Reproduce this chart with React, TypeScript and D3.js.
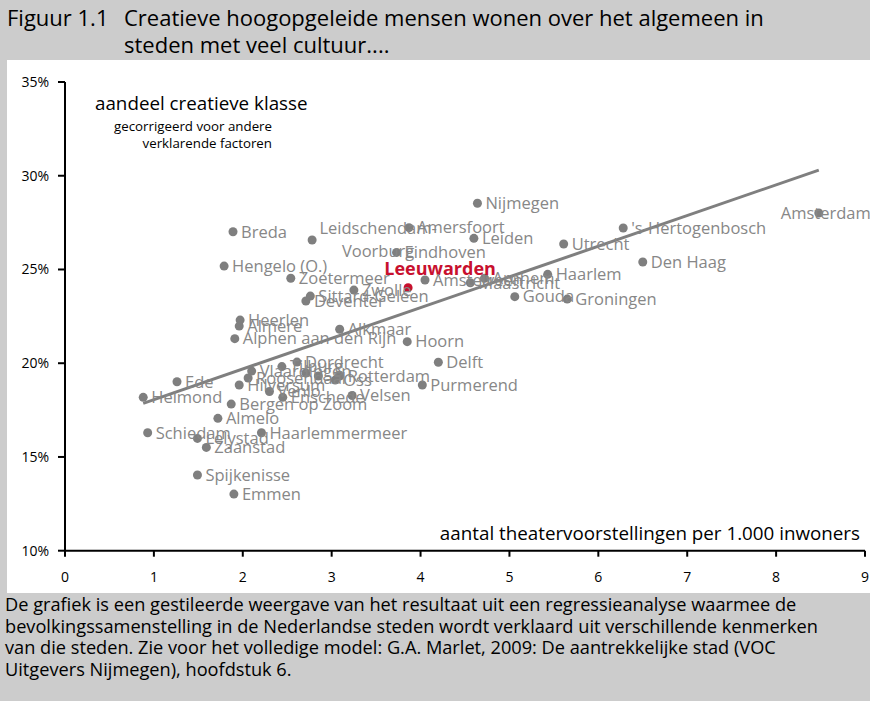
import React from "react";
import { scaleLinear, line } from "d3";

// steden (gemeenten) met theatervoorstellingen per 1.000 inwoners en aandeel creatieve klasse (%)
const cities = [
  "Amsterdam", "'s-Hertogenbosch", "Utrecht", "Den Haag", "Haarlem", "Groningen", "Gouda",
  "Nijmegen", "Leiden", "Amersfoort", "Leidschendam-Voorburg", "Eindhoven", "Breda",
  "Hengelo (O.)", "Zoetermeer", "Leeuwarden", "Amstelveen", "Maastricht", "Arnhem", "Zwolle",
  "Sittard-Geleen", "Deventer", "Heerlen", "Almere", "Alphen aan den Rijn", "Alkmaar", "Hoorn",
  "Delft", "Purmerend", "Ede", "Helmond", "Hilversum", "Bergen op Zoom", "Almelo", "Velsen",
  "Enschede", "Venlo", "Vlaardingen", "Roosendaal", "Tilburg", "Dordrecht", "Rotterdam", "Oss",
  "", "", "Schiedam", "Lelystad", "Haarlemmermeer", "Zaanstad", "Spijkenisse", "Emmen",
];
const theater = [
  8.48, 6.28, 5.61, 6.5, 5.43, 5.65, 5.06,
  4.64, 4.6, 3.87, 2.78, 3.73, 1.89,
  1.79, 2.54, 3.86, 4.05, 4.56, 4.72, 3.25,
  2.76, 2.71, 1.97, 1.96, 1.91, 3.09, 3.85,
  4.2, 4.02, 1.26, 0.88, 1.96, 1.87, 1.72, 3.23,
  2.45, 2.3, 2.1, 2.06, 2.44, 2.61, 3.09, 3.04,
  2.71, 2.85, 0.93, 1.49, 2.21, 1.59, 1.49, 1.9,
];
const creatief = [
  28.01, 27.21, 26.36, 25.4, 24.74, 23.42, 23.55,
  28.53, 26.66, 27.23, 26.57, 25.91, 27.01,
  25.18, 24.53, 24.03, 24.44, 24.29, 24.53, 23.9,
  23.58, 23.32, 22.3, 21.98, 21.31, 21.81, 21.15,
  20.05, 18.84, 19.01, 18.18, 18.84, 17.82, 17.06, 18.28,
  18.18, 18.49, 19.58, 19.21, 19.82, 20.06, 19.32, 19.1,
  19.48, 19.32, 16.29, 15.99, 16.29, 15.51, 14.04, 13.02,
];

// regressielijn
const trendX = [0.88, 8.48];
const trendY = [17.86, 30.3];

const xTicks = [0, 1, 2, 3, 4, 5, 6, 7, 8, 9];
const yTicks = [10, 15, 20, 25, 30, 35];

const titleLines = [
  "Creatieve hoogopgeleide mensen wonen over het algemeen in",
  "steden met veel cultuur....",
];
const footerLines = [
  "De grafiek is een gestileerde weergave van het resultaat uit een regressieanalyse waarmee de",
  "bevolkingssamenstelling in de Nederlandse steden wordt verklaard uit verschillende kenmerken",
  "van die steden. Zie voor het volledige model: G.A. Marlet, 2009: De aantrekkelijke stad (VOC",
  "Uitgevers Nijmegen), hoofdstuk 6.",
];

const highlight = "Leeuwarden";
const font = "'Open Sans', 'Noto Sans', sans-serif";
const grey = "#cccccc";
const dotColor = "#7f7f7f";
const labelColor = "#878787";
const red = "#c8102e";

const App = () => {
  const width = 870;
  const height = 701;

  const xScale = scaleLinear().domain([0, 9]).range([65, 865]);
  const yScale = scaleLinear().domain([10, 35]).range([550.7, 82]);

  const trendPath = line<number>()
    .x((d) => xScale(trendX[d]))
    .y((d) => yScale(trendY[d]))([0, 1]);

  const labelFor = (name: string, i: number) => {
    const cx = xScale(theater[i]);
    const cy = yScale(creatief[i]);
    if (!name) return null;
    if (name === highlight) {
      return (
        <text key={"l" + i} x={cx + 32} y={cy - 19} dy=".35em" textAnchor="middle"
          fill={red} fontWeight="bold" fontSize={18}>
          {name}
        </text>
      );
    }
    if (name === "Amsterdam") {
      return (
        <text key={"l" + i} x={cx + 7} y={cy} dy=".35em" textAnchor="middle" fill={labelColor}>
          {name}
        </text>
      );
    }
    if (name === "Leidschendam-Voorburg") {
      return (
        <text key={"l" + i} x={cx + 66} y={cy} textAnchor="middle" fill={labelColor}>
          <tspan x={cx + 66} dy="-0.35em">Leidschendam-</tspan>
          <tspan x={cx + 66} dy="1.35em">Voorburg</tspan>
        </text>
      );
    }
    return (
      <text key={"l" + i} x={cx + 8} y={cy} dy=".35em" fill={labelColor}>
        {name}
      </text>
    );
  };

  return (
    <svg width={width} height={height} style={{ position: "absolute", left: 0, top: 0 }}
      fontFamily={font}>
      <rect x={0} y={0} width={width} height={height} fill={grey} />
      <rect x={7} y={60} width={width - 7} height={533} fill="white" />

      {/* titel */}
      <text x={7} y={26} fontSize={22} fill="#000">Figuur 1.1</text>
      {titleLines.map((t, i) => (
        <text key={i} x={124} y={26 + i * 27} fontSize={22} fill="#000">{t}</text>
      ))}

      {/* assen */}
      <line x1={xScale(0)} x2={xScale(0)} y1={yScale(35)} y2={yScale(10)} stroke="#000" strokeWidth={2} />
      <line x1={xScale(0)} x2={xScale(9)} y1={yScale(10)} y2={yScale(10)} stroke="#000" strokeWidth={2} />
      {yTicks.map((t) => (
        <g key={"y" + t} transform={`translate(0,${yScale(t)})`}>
          <line x1={xScale(0) - 7} x2={xScale(0)} stroke="#000" strokeWidth={2} />
          <text x={49} dy=".35em" textAnchor="end" fontSize={14} fill="#000">{t}%</text>
        </g>
      ))}
      {xTicks.map((t) => (
        <g key={"x" + t} transform={`translate(${xScale(t)},0)`}>
          <line y1={yScale(10)} y2={yScale(10) + 6} stroke="#000" strokeWidth={2} />
          <text y={577} dy=".35em" textAnchor="middle" fontSize={14} fill="#000">{t}</text>
        </g>
      ))}

      <text x={95} y={110} fontSize={18.8} fill="#000">aandeel creatieve klasse</text>
      <text x={272} y={131} fontSize={13.3} textAnchor="end" fill="#000">gecorrigeerd voor andere</text>
      <text x={272} y={148} fontSize={13.3} textAnchor="end" fill="#000">verklarende factoren</text>
      <text x={860} y={540} fontSize={18.8} textAnchor="end" fill="#000">
        aantal theatervoorstellingen per 1.000 inwoners
      </text>

      {/* punten */}
      <g fontSize={16.5}>
        {cities.map((name, i) => (
          <circle key={"c" + i} cx={xScale(theater[i])} cy={yScale(creatief[i])} r={4.5}
            fill={name === highlight ? red : dotColor} />
        ))}
        <path d={trendPath ?? ""} stroke={dotColor} strokeWidth={3} fill="none" />
        {cities.map((name, i) => labelFor(name, i))}
      </g>

      {/* toelichting */}
      {footerLines.map((t, i) => (
        <text key={"f" + i} x={5} y={611 + i * 21.6} fontSize={18.2} fill="#000">{t}</text>
      ))}
    </svg>
  );
};

export default App;
